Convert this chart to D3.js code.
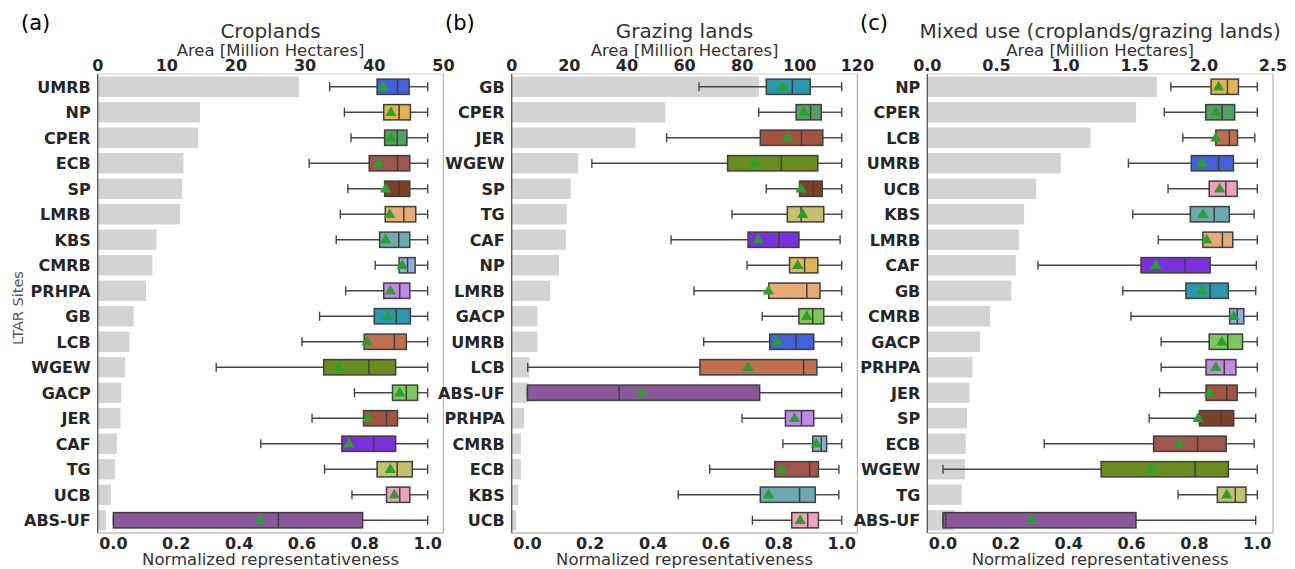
<!DOCTYPE html>
<html>
<head>
<meta charset="utf-8">
<script src="https://cdn.jsdelivr.net/npm/d3@7"></script>
<style>
  body { margin: 0; background: #fff; }
  svg { display: block; font-family: "DejaVu Sans", sans-serif; }
</style>
</head>
<body>
<svg id="chart" width="1295" height="569"></svg>
<script>
// ---- data ----
// box stats per site: [whisker low, Q1, median, Q3, whisker high]
var cropSites = ["UMRB","NP","CPER","ECB","SP","LMRB","KBS","CMRB","PRHPA","GB","LCB","WGEW","GACP","JER","CAF","TG","UCB","ABS-UF"];
var cropArea  = [29.1,14.8,14.5,12.4,12.2,11.9,8.5,7.9,7.0,5.2,4.6,3.95,3.4,3.3,2.75,2.5,1.9,1.2];
var cropBox = [
  [0.688,0.839,0.904,0.941,1.0],[0.735,0.860,0.909,0.945,1.0],[0.756,0.863,0.903,0.934,1.0],
  [0.623,0.814,0.904,0.943,1.0],[0.746,0.863,0.909,0.943,1.0],[0.722,0.865,0.924,0.962,1.0],
  [0.709,0.847,0.908,0.943,1.0],[0.833,0.909,0.936,0.960,1.0],[0.739,0.860,0.911,0.943,1.0],
  [0.656,0.830,0.900,0.945,1.0],[0.600,0.798,0.894,0.932,1.0],[0.327,0.669,0.813,0.898,1.0],
  [0.767,0.888,0.932,0.968,1.0],[0.632,0.796,0.869,0.904,1.0],[0.469,0.727,0.828,0.898,1.0],
  [0.672,0.839,0.903,0.951,1.0],[0.759,0.869,0.911,0.943,1.0],[0.0,0.0,0.525,0.793,1.0]];
var cropMean = [0.858,0.883,0.883,0.845,0.866,0.879,0.866,0.919,0.881,0.873,0.807,0.718,0.911,0.809,0.750,0.881,0.894,0.467];

var grazSites = ["GB","CPER","JER","WGEW","SP","TG","CAF","NP","LMRB","GACP","UMRB","LCB","ABS-UF","PRHPA","CMRB","ECB","KBS","UCB"];
var grazArea  = [85.8,53.3,43.0,23.1,20.5,19.1,18.8,16.4,13.3,8.9,8.9,6.1,5.8,4.3,3.2,3.2,2.3,1.5];
var grazBox = [
  [0.546,0.760,0.843,0.900,1.0],[0.736,0.855,0.901,0.935,1.0],[0.443,0.741,0.872,0.940,1.0],
  [0.205,0.637,0.808,0.924,1.0],[0.760,0.866,0.910,0.938,1.0],[0.651,0.827,0.871,0.943,1.0],
  [0.457,0.702,0.800,0.864,0.995],[0.699,0.834,0.882,0.924,1.0],[0.530,0.768,0.889,0.931,1.0],
  [0.747,0.864,0.908,0.943,1.0],[0.561,0.771,0.855,0.911,1.0],[0.001,0.549,0.879,0.921,1.0],
  [0.0,0.0,0.292,0.739,1.0],[0.683,0.821,0.872,0.911,1.0],[0.813,0.908,0.935,0.952,1.0],
  [0.580,0.787,0.898,0.926,0.991],[0.480,0.741,0.866,0.916,0.991],[0.716,0.841,0.892,0.926,1.0]];
var grazMean = [0.811,0.879,0.827,0.723,0.871,0.876,0.734,0.860,0.767,0.889,0.795,0.702,0.364,0.850,0.919,0.809,0.767,0.868];

var mixSites = ["NP","CPER","LCB","UMRB","UCB","KBS","LMRB","CAF","GB","CMRB","GACP","PRHPA","JER","SP","ECB","WGEW","TG","ABS-UF"];
var mixArea  = [1.66,1.51,1.18,0.965,0.787,0.70,0.664,0.64,0.608,0.454,0.381,0.326,0.304,0.287,0.278,0.273,0.249,0.20];
var mixBox = [
  [0.725,0.853,0.905,0.940,1.0],[0.704,0.836,0.888,0.928,1.0],[0.763,0.868,0.911,0.937,0.992],
  [0.590,0.790,0.877,0.924,1.0],[0.716,0.847,0.900,0.936,1.0],[0.604,0.787,0.863,0.911,0.990],
  [0.685,0.827,0.889,0.922,1.0],[0.302,0.630,0.770,0.850,0.997],[0.572,0.773,0.850,0.908,0.995],
  [0.598,0.912,0.936,0.957,1.0],[0.694,0.847,0.906,0.953,1.0],[0.694,0.837,0.895,0.932,1.0],
  [0.689,0.837,0.903,0.936,0.995],[0.656,0.816,0.885,0.925,0.995],[0.322,0.670,0.810,0.901,0.990],
  [0.0,0.503,0.802,0.908,1.0],[0.748,0.873,0.930,0.964,1.0],[0.0,0.0,0.009,0.614,0.995]];
var mixMean = [0.877,0.868,0.868,0.824,0.880,0.827,0.839,0.677,0.824,0.925,0.887,0.868,0.848,0.812,0.752,0.662,0.903,0.282];

var cropTicks = [0,10,20,30,40,50];
var grazTicks = [0,20,40,60,80,100,120];
var mixTicks  = [0,0.5,1.0,1.5,2.0,2.5];
var reprTicks = [0,0.2,0.4,0.6,0.8,1.0];

var siteColors = {
  "UMRB":"#4262dc","NP":"#e2b553","CPER":"#55a063","ECB":"#a0554f","SP":"#7a4229",
  "LMRB":"#e8ab73","KBS":"#6ca9b0","CMRB":"#8fade0","PRHPA":"#bf89e5","GB":"#2a98ad",
  "LCB":"#c1704f","WGEW":"#688c1d","GACP":"#7dc75c","JER":"#a5543f","CAF":"#7b2fdd",
  "TG":"#c6c170","UCB":"#f0a1c1","ABS-UF":"#8b579b"
};

var panels = [
  {tag:"(a)", tagX:21, title:"Croplands", left:97.7, sites:cropSites, area:cropArea, box:cropBox, mean:cropMean,
   areaMax:50, areaTicks:cropTicks, fmt:d3.format("d")},
  {tag:"(b)", tagX:445, title:"Grazing lands", left:511.7, sites:grazSites, area:grazArea, box:grazBox, mean:grazMean,
   areaMax:120, areaTicks:grazTicks, fmt:d3.format("d")},
  {tag:"(c)", tagX:860, title:"Mixed use (croplands/grazing lands)", left:927.3, sites:mixSites, area:mixArea, box:mixBox, mean:mixMean,
   areaMax:2.5, areaTicks:mixTicks, fmt:d3.format(".1f")}
];

var svg = d3.select("#chart");
var pw = 345.7, plotTop = 74, plotBottom = 533;
var txt = "#262626";

panels.forEach(function (p) {
  var g = svg.append("g");
  var xArea = d3.scaleLinear().domain([0, p.areaMax]).range([p.left, p.left + pw]);
  var xRep = d3.scaleLinear().domain([-0.05, 1.05]).range([p.left, p.left + pw]);
  var y = d3.scaleBand().domain(p.sites).range([plotTop, plotBottom]);
  var bw = y.bandwidth();
  var boxH = bw * 0.6;

  // grey area bars
  g.selectAll("rect.area").data(p.sites).enter().append("rect")
    .attr("x", p.left)
    .attr("y", function (d) { return y(d) + bw * 0.1; })
    .attr("width", function (d, i) { return xArea(p.area[i]) - p.left; })
    .attr("height", bw * 0.8)
    .attr("fill", "#d3d3d3");

  // spines
  g.append("line").attr("x1", p.left).attr("x2", p.left + pw).attr("y1", plotTop).attr("y2", plotTop)
    .attr("stroke", "#cfcfcf").attr("stroke-width", 1.2);
  g.append("line").attr("x1", p.left).attr("x2", p.left + pw).attr("y1", plotBottom).attr("y2", plotBottom)
    .attr("stroke", "#a0a0a0").attr("stroke-width", 1.2);
  g.append("line").attr("x1", p.left + pw).attr("x2", p.left + pw).attr("y1", plotTop).attr("y2", plotBottom)
    .attr("stroke", "#b3b3b3").attr("stroke-width", 1.2);
  g.append("line").attr("x1", p.left).attr("x2", p.left).attr("y1", plotTop).attr("y2", plotBottom)
    .attr("stroke", "#555").attr("stroke-width", 1.3);

  // box plots
  var rows = g.selectAll("g.row").data(p.sites).enter().append("g")
    .attr("transform", function (d) { return "translate(0," + (y(d) + bw / 2) + ")"; });

  rows.each(function (d, i) {
    var r = d3.select(this), b = p.box[i];
    var wc = "#454545";
    r.append("line").attr("x1", xRep(b[0])).attr("x2", xRep(b[1])).attr("stroke", wc).attr("stroke-width", 1.4);
    r.append("line").attr("x1", xRep(b[3])).attr("x2", xRep(b[4])).attr("stroke", wc).attr("stroke-width", 1.4);
    [b[0], b[4]].forEach(function (v) {
      r.append("line").attr("x1", xRep(v)).attr("x2", xRep(v)).attr("y1", -4.6).attr("y2", 4.6)
        .attr("stroke", wc).attr("stroke-width", 1.4);
    });
    r.append("rect").attr("x", xRep(b[1])).attr("y", -boxH / 2)
      .attr("width", xRep(b[3]) - xRep(b[1])).attr("height", boxH)
      .attr("fill", siteColors[d]).attr("stroke", "#3f3f3f").attr("stroke-width", 1.5);
    r.append("line").attr("x1", xRep(b[2])).attr("x2", xRep(b[2])).attr("y1", -boxH / 2).attr("y2", boxH / 2)
      .attr("stroke", "#3f3f3f").attr("stroke-width", 1.5);
    r.append("path").attr("d", d3.symbol().type(d3.symbolTriangle).size(56)())
      .attr("transform", "translate(" + xRep(p.mean[i]) + ",0.5)")
      .attr("fill", "#2ca02c");
  });

  // y labels
  g.selectAll("text.site").data(p.sites).enter().append("text")
    .attr("x", p.left - 7).attr("y", function (d) { return y(d) + bw / 2; })
    .attr("dy", "0.36em").attr("text-anchor", "end")
    .attr("font-size", 16).attr("font-weight", "bold").attr("fill", txt)
    .text(function (d) { return d; });

  // top area axis
  g.selectAll("text.at").data(p.areaTicks).enter().append("text")
    .attr("x", function (d) { return xArea(d); }).attr("y", 70.5)
    .attr("text-anchor", "middle").attr("font-size", 16).attr("font-weight", "bold").attr("fill", txt)
    .text(p.fmt);

  // bottom representativeness axis
  g.selectAll("text.bt").data(reprTicks).enter().append("text")
    .attr("x", function (d) { return xRep(d); }).attr("y", 549)
    .attr("text-anchor", "middle").attr("font-size", 16).attr("font-weight", "bold").attr("fill", txt)
    .text(d3.format(".1f"));

  var cx = p.left + pw / 2;
  g.append("text").attr("x", cx).attr("y", 38).attr("text-anchor", "middle")
    .attr("font-size", 20).attr("fill", "#333").text(p.title);
  g.append("text").attr("x", cx).attr("y", 55.5).attr("text-anchor", "middle")
    .attr("font-size", 16.5).attr("fill", "#333").text("Area [Million Hectares]");
  g.append("text").attr("x", cx).attr("y", 564.5).attr("text-anchor", "middle")
    .attr("font-size", 16.5).attr("fill", "#333").text("Normalized representativeness");
  g.append("text").attr("x", p.tagX).attr("y", 30)
    .attr("font-size", 21).attr("fill", "#000").text(p.tag);
});

svg.append("text").attr("transform", "translate(23,308) rotate(-90)")
  .attr("text-anchor", "middle").attr("font-size", 14.5).attr("fill", "#555").text("LTAR Sites");
</script>
</body>
</html>
